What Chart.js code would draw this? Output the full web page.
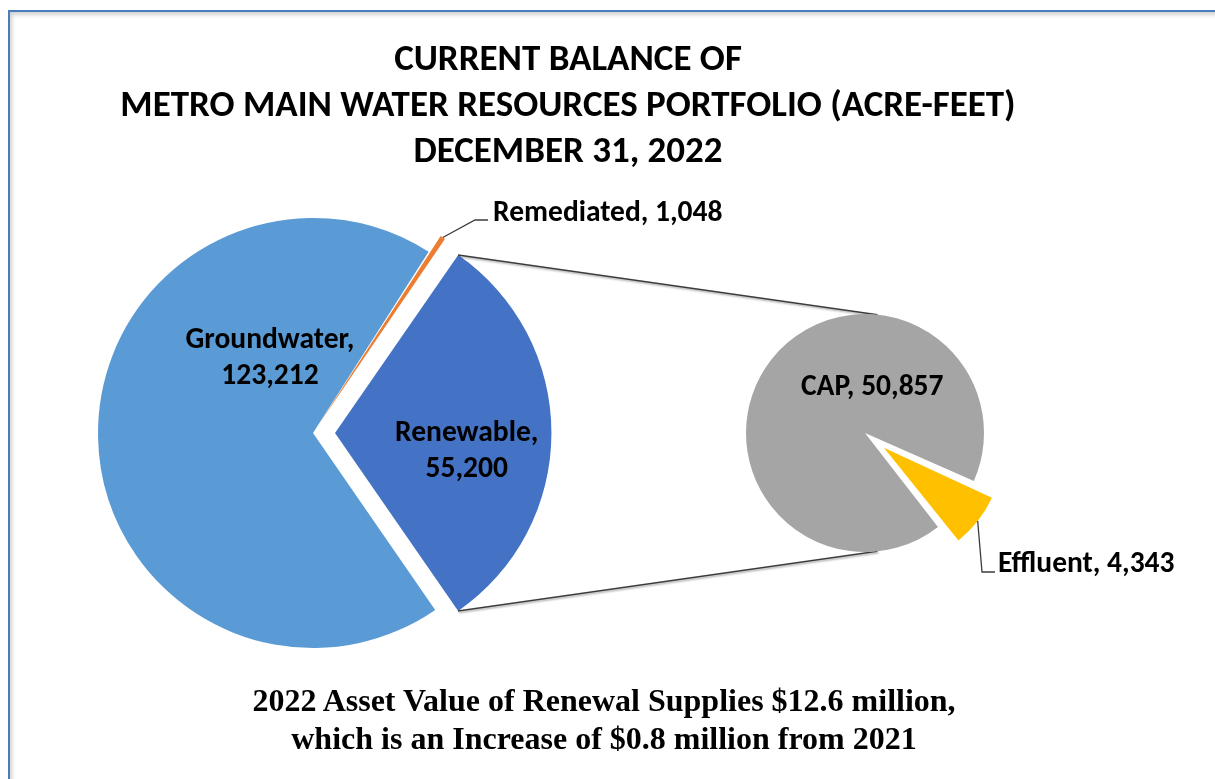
<!DOCTYPE html>
<html>
<head>
<meta charset="utf-8">
<title>Current Balance of Metro Main Water Resources Portfolio</title>
<script src="https://cdn.jsdelivr.net/npm/chart.js@4/dist/chart.umd.min.js"></script>
<style>
  html, body { margin: 0; padding: 0; background: #fff; }
  body { width: 1215px; height: 779px; overflow: hidden; position: relative; font-family: Carlito, Lato, sans-serif; }
  #frame {
    position: absolute; left: 8px; top: 10px; width: 1300px; height: 900px;
    border-top: 2px solid #4a7ebb; border-left: 2px solid #4a7ebb;
    box-shadow: inset 2px 3px 4px rgba(0, 0, 0, 0.18);
  }
  .layer { position: absolute; left: 0; top: 0; width: 1215px; height: 779px; }
  #title {
    position: absolute; left: 68px; top: 35px; width: 1000px;
    text-align: center; font-weight: bold; font-size: 37px; line-height: 46px; color: #000;
    white-space: nowrap;
  }
  #note {
    position: absolute; left: 104px; top: 681px; width: 1000px;
    text-align: center; font-family: "Liberation Serif", "Times New Roman", serif;
    font-weight: bold; font-size: 32px; line-height: 38px; color: #000;
    white-space: nowrap;
  }
</style>
</head>
<body>
<div id="frame"></div>
<div class="layer"><canvas id="main-pie"></canvas></div>
<div class="layer"><canvas id="renew-pie"></canvas></div>
<div id="title">CURRENT BALANCE OF<br>METRO MAIN WATER RESOURCES PORTFOLIO (ACRE-FEET)<br>DECEMBER 31, 2022</div>
<div id="note">2022 Asset Value of Renewal Supplies $12.6 million,<br>which is an Increase of $0.8 million from 2021</div>

<script>
// main pie
const mainLabels = ["Groundwater", "Remediated", "Renewable"];
const mainValues = [123212, 1048, 55200];
const mainColors = ["#5B9BD5", "#ED7D31", "#4472C4"];

// renewable breakdown (second pie)
const renewLabels = ["CAP", "Effluent"];
const renewValues = [50857, 4343];
const renewColors = ["#A5A5A5", "#FFC000"];

const labelFont = "bold 29.5px Carlito, Lato, sans-serif";
const lineColor = "#3c3c3c";

// where each label goes, relative to its slice (angle clockwise from top, px)
const mainPlacement = [
  { type: "inside", angle: 330, dist: 86, lines: 2 },
  { type: "leader", elbow: [162, -213], end: [175, -213], text: [180, -219] },
  { type: "inside", angle: 98, dist: 133, lines: 2 }
];
const renewPlacement = [
  { type: "inside", angle: 9, dist: 46, lines: 1 },
  { type: "leader", elbow: [117, 139], end: [130, 139], text: [133, 132] }
];

function sum(arr) { return arr.reduce((a, b) => a + b, 0); }
function fmt(v) { return v.toLocaleString("en-US"); }

function sliceCenter(arc) {
  const mid = (arc.startAngle + arc.endAngle) / 2;
  const shift = (arc.options.offset || 0) / 4;
  return { x: arc.x + Math.cos(mid) * shift, y: arc.y + Math.sin(mid) * shift, mid: mid };
}

function sliceRadius(arc) {
  const shift = (arc.options.offset || 0) / 4;
  const fix = 1 - Math.sin(Math.min(Math.PI, arc.circumference || 0));
  return arc.outerRadius + shift * fix;
}

function drawLabels(chart, labels, values, placement) {
  const ctx = chart.ctx;
  const meta = chart.getDatasetMeta(0);
  ctx.save();
  ctx.font = labelFont;
  ctx.fillStyle = "#000";
  meta.data.forEach((arc, i) => {
    const p = placement[i];
    const c = sliceCenter(arc);
    if (p.type === "inside") {
      const a = p.angle * Math.PI / 180;
      const x = c.x + Math.sin(a) * p.dist;
      const y = c.y - Math.cos(a) * p.dist;
      ctx.textAlign = "center";
      ctx.textBaseline = "middle";
      if (p.lines === 2) {
        ctx.fillText(labels[i] + ",", x, y - 18);
        ctx.fillText(fmt(values[i]), x, y + 18);
      } else {
        ctx.fillText(labels[i] + ", " + fmt(values[i]), x, y);
      }
    } else {
      const r = sliceRadius(arc);
      const sx = c.x + Math.cos(c.mid) * r;
      const sy = c.y + Math.sin(c.mid) * r;
      ctx.strokeStyle = lineColor;
      ctx.lineWidth = 1.3;
      ctx.beginPath();
      ctx.moveTo(sx, sy);
      ctx.lineTo(arc.x + p.elbow[0], arc.y + p.elbow[1]);
      ctx.lineTo(arc.x + p.end[0], arc.y + p.end[1]);
      ctx.stroke();
      ctx.textAlign = "left";
      ctx.textBaseline = "middle";
      ctx.fillText(labels[i] + ", " + fmt(values[i]), arc.x + p.text[0], arc.y + p.text[1]);
    }
  });
  ctx.restore();
}

// turn Renewable to face right, Effluent towards lower right
const mainTotal = sum(mainValues);
const mainRotation = 90 - (mainValues[0] + mainValues[1] + mainValues[2] / 2) / mainTotal * 360;
const renewTotal = sum(renewValues);
const renewRotation = 128 - (renewValues[0] + renewValues[1] / 2) / renewTotal * 360;

const mainChart = new Chart(document.getElementById("main-pie"), {
  type: "pie",
  data: {
    labels: mainLabels,
    datasets: [{
      data: mainValues,
      backgroundColor: mainColors,
      borderWidth: 0,
      offset: [0, 40, 88],
      radius: 215
    }]
  },
  options: {
    responsive: true,
    maintainAspectRatio: false,
    animation: false,
    events: [],
    rotation: mainRotation,
    layout: { padding: { left: 0, right: 589, top: 87, bottom: 0 } },
    plugins: { legend: { display: false }, tooltip: { enabled: false } }
  },
  plugins: [{
    id: "mainLabels",
    afterDatasetsDraw(chart) { drawLabels(chart, mainLabels, mainValues, mainPlacement); }
  }]
});

new Chart(document.getElementById("renew-pie"), {
  type: "pie",
  data: {
    labels: renewLabels,
    datasets: [{
      data: renewValues,
      backgroundColor: renewColors,
      borderWidth: 0,
      offset: [0, 96],
      radius: 119
    }]
  },
  options: {
    responsive: true,
    maintainAspectRatio: false,
    animation: false,
    events: [],
    rotation: renewRotation,
    layout: { padding: { left: 515, right: 0, top: 87, bottom: 0 } },
    plugins: { legend: { display: false }, tooltip: { enabled: false } }
  },
  plugins: [{
    id: "keepRadius",
    // exploded slice keeps the same radius as the rest of the pie
    afterDatasetUpdate(chart) {
      chart.getDatasetMeta(0).data.forEach(arc => {
        const shift = (arc.options.offset || 0) / 4;
        const fix = 1 - Math.sin(Math.min(Math.PI, arc.circumference || 0));
        arc.outerRadius -= shift * fix;
      });
    }
  }, {
    id: "connectors",
    beforeDatasetsDraw(chart) {
      const ren = mainChart.getDatasetMeta(0).data[2];
      const c = sliceCenter(ren);
      const r = sliceRadius(ren);
      const cap = chart.getDatasetMeta(0).data[0];
      const r2 = cap.outerRadius;
      const tilt = 6 * Math.PI / 180;
      const ctx = chart.ctx;
      ctx.save();
      ctx.strokeStyle = lineColor;
      ctx.lineWidth = 1.5;
      ctx.shadowColor = "rgba(0,0,0,0.35)";
      ctx.shadowOffsetX = 1;
      ctx.shadowOffsetY = 1.5;
      ctx.shadowBlur = 2;
      ctx.beginPath();
      ctx.moveTo(c.x + Math.cos(ren.startAngle) * r, c.y + Math.sin(ren.startAngle) * r);
      ctx.lineTo(cap.x + Math.sin(tilt) * r2, cap.y - Math.cos(tilt) * r2);
      ctx.moveTo(c.x + Math.cos(ren.endAngle) * r, c.y + Math.sin(ren.endAngle) * r);
      ctx.lineTo(cap.x + Math.sin(tilt) * r2, cap.y + Math.cos(tilt) * r2);
      ctx.stroke();
      ctx.restore();
    },
    afterDatasetsDraw(chart) { drawLabels(chart, renewLabels, renewValues, renewPlacement); }
  }]
});
</script>
</body>
</html>
